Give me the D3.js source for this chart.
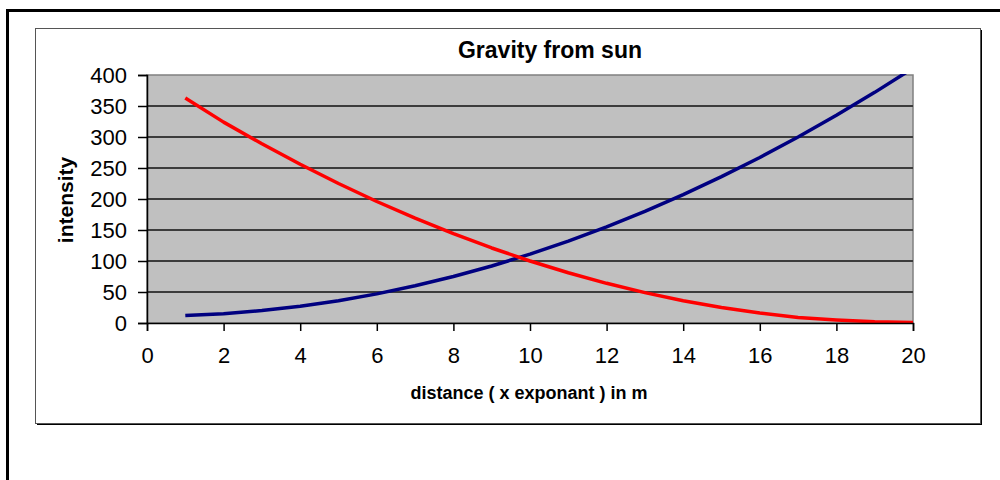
<!DOCTYPE html>
<html>
<head>
<meta charset="utf-8">
<script src="https://cdn.jsdelivr.net/npm/d3@7"></script>
<style>
  html, body { margin: 0; padding: 0; background: #fff; }
  svg { display: block; font-family: "Liberation Sans", Arial, sans-serif; }
</style>
</head>
<body>
<svg id="chart" width="1000" height="480"></svg>
<script>
// ---- data ----
const distance = [1, 2, 3, 4, 5, 6, 7, 8, 9, 10, 11, 12, 13, 14, 15, 16, 17, 18, 19, 20];
const increasingSeries = [12, 15, 20, 27, 36, 47, 60, 75, 92, 111, 132, 155, 180, 207, 236, 267, 300, 335, 372, 411];
const decreasingSeries = [363, 324, 289, 256, 225, 196, 169, 144, 121, 100, 81, 64, 49, 36, 25, 16, 9, 5, 2, 1];
const xTicks = [0, 2, 4, 6, 8, 10, 12, 14, 16, 18, 20];
const yTicks = [0, 50, 100, 150, 200, 250, 300, 350, 400];
const chartTitle = "Gravity from sun";
const xTitle = "distance ( x exponant ) in m";
const yTitle = "intensity";

(function () {
const svg = d3.select("#chart");

// outer frame (extends past the window)
svg.append("path")
  .attr("d", "M7.5,1000 L7.5,10.5 L1010,10.5")
  .attr("fill", "none").attr("stroke", "#000").attr("stroke-width", 3);

// chart area box with shadow
svg.append("rect").attr("x", 37).attr("y", 30).attr("width", 945).attr("height", 395)
  .attr("fill", "#000");
svg.append("rect").attr("x", 35.5).attr("y", 28.5).attr("width", 945).attr("height", 395)
  .attr("fill", "#fff").attr("stroke", "#555").attr("stroke-width", 1);

const pL = 147, pR = 913, pT = 75, pB = 323;
const x = d3.scaleLinear().domain([0, 20]).range([pL, pR]);
const y = d3.scaleLinear().domain([0, 400]).range([pB, pT]);

// plot background
svg.append("rect").attr("x", pL).attr("y", pT).attr("width", pR - pL).attr("height", pB - pT)
  .attr("fill", "#C0C0C0").attr("stroke", "#808080").attr("stroke-width", 1.5);

// gridlines
svg.append("g").selectAll("line").data(yTicks.filter(d => d > 0 && d < 400)).join("line")
  .attr("x1", pL).attr("x2", pR)
  .attr("y1", d => y(d)).attr("y2", d => y(d))
  .attr("stroke", "#3c3c3c").attr("stroke-width", 2);

// clip for lines
svg.append("clipPath").attr("id", "plotclip").append("rect")
  .attr("x", pL).attr("y", pT - 1).attr("width", pR - pL + 2).attr("height", pB - pT + 2);

const line = d3.line().x(d => x(d[0])).y(d => y(d[1]));
const g = svg.append("g").attr("clip-path", "url(#plotclip)");
g.append("path").datum(distance.map((d, i) => [d, increasingSeries[i]]))
  .attr("d", line).attr("fill", "none").attr("stroke", "#000080").attr("stroke-width", 3.5)
  .attr("stroke-linejoin", "round");
g.append("path").datum(distance.map((d, i) => [d, decreasingSeries[i]]))
  .attr("d", line).attr("fill", "none").attr("stroke", "#FF0000").attr("stroke-width", 3.5)
  .attr("stroke-linejoin", "round");

// x axis
const xAxis = d3.axisBottom(x).tickValues(xTicks).tickSize(8).tickPadding(16).tickFormat(d3.format("d"));
const gx = svg.append("g").attr("transform", `translate(0,${pB})`).call(xAxis);
gx.select(".domain").attr("stroke", "#000").attr("stroke-width", 1.5);
gx.selectAll(".tick line").attr("stroke", "#000").attr("stroke-width", 1.5);
gx.selectAll(".tick text").attr("font-size", 22).attr("fill", "#000")
  .attr("font-family", "Liberation Sans, Arial, sans-serif");

// y axis
const yAxis = d3.axisLeft(y).tickValues(yTicks).tickSize(9).tickPadding(11).tickFormat(d3.format("d"));
const gy = svg.append("g").attr("transform", `translate(${pL},0)`).call(yAxis);
gy.select(".domain").attr("stroke", "#000").attr("stroke-width", 1.5);
gy.selectAll(".tick line").attr("stroke", "#000").attr("stroke-width", 1.5);
gy.selectAll(".tick text").attr("font-size", 22).attr("fill", "#000")
  .attr("font-family", "Liberation Sans, Arial, sans-serif");

// titles
svg.append("text").attr("x", 550).attr("y", 58).attr("text-anchor", "middle")
  .attr("font-size", 23).attr("font-weight", "bold").text(chartTitle);
svg.append("text").attr("x", 529).attr("y", 399).attr("text-anchor", "middle")
  .attr("font-size", 18).attr("font-weight", "bold").text(xTitle);
svg.append("text").attr("transform", "translate(73,200) rotate(-90)").attr("text-anchor", "middle")
  .attr("font-size", 21).attr("font-weight", "bold").text(yTitle);
})();
</script>
</body>
</html>
